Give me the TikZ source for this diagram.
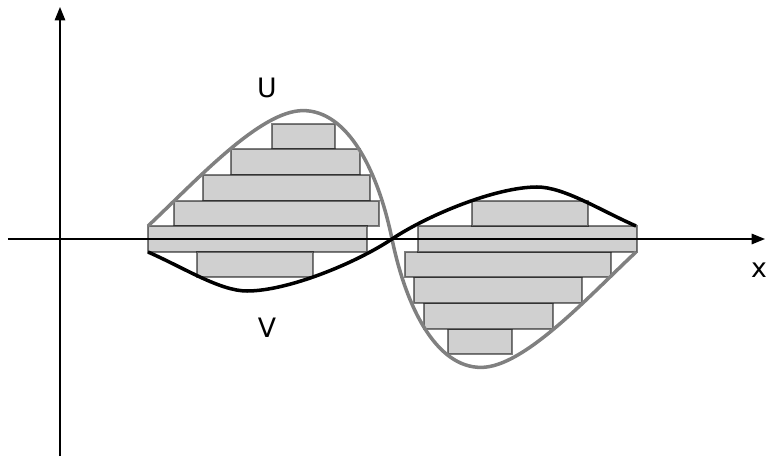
\documentclass[tikz,border=0pt]{standalone}
\usepackage{fontspec}
\setmainfont{DejaVu Sans}
\usepackage{tikz}
\usetikzlibrary{arrows.meta}
\definecolor{stripfill}{RGB}{208,208,208}
\definecolor{ucol}{RGB}{128,128,128}
\tikzset{
  axisline/.style={-{Triangle[length=9.5pt,width=7.5pt]}, line width=0.9pt, black},
  stripbox/.style={fill=stripfill, draw=black, draw opacity=0.5, line width=1.4pt},
  ucurve/.style={draw=ucol, line width=2.5pt},
  vcurve/.style={draw=black, line width=2.5pt},
  curvelbl/.style={font=\fontsize{19}{22}\selectfont, inner sep=0pt}
}

\begin{document}
\begin{tikzpicture}
  \useasboundingbox (-1.5,-5.425) rectangle (17.675,5.975);

  %% Strips between U and V
  \foreach \xa/\xb/\k in {
      5.3/6.875/4, 4.275/7.5/3, 3.575/7.75/2, 2.85/7.975/1, 2.2/7.675/0, 3.425/6.325/-1,
      9.7/11.3/-4, 9.1/12.325/-3, 8.85/13.05/-2, 8.625/13.775/-1, 8.95/14.425/0, 10.3/13.2/1}{
    \draw[stripbox] (\xa,\k*0.64-0.32) rectangle (\xb,\k*0.64+0.32);
  }

  %% Axes
  \coordinate (xstart) at (-1.3,0);
  \coordinate (xend) at (17.625,0);
  \coordinate (ystart) at (0,-5.425);
  \coordinate (yend) at (0,5.8);
  \draw[axisline] (xstart) -- (xend);
  \draw[axisline] (ystart) -- (yend);

  %% Curves
  % U
  \draw[ucurve] (2.2,0.325) .. controls (3.4,1.45) and (5.0,3.21) .. (6.075,3.21)
      .. controls (7.2,3.21) and (7.95,1.7) .. (8.3,0)
      .. controls (8.65,-1.7) and (9.4,-3.21) .. (10.525,-3.21)
      .. controls (11.6,-3.21) and (13.2,-1.45) .. (14.4,-0.325);
  % V
  \draw[vcurve] (2.2,-0.325) .. controls (3.1,-0.72) and (4.0,-1.3) .. (4.675,-1.3)
      .. controls (5.7,-1.3) and (7.4,-0.6) .. (8.3,0)
      .. controls (9.2,0.6) and (10.9,1.3) .. (11.925,1.3)
      .. controls (12.6,1.3) and (13.5,0.72) .. (14.4,0.325);

  \node[curvelbl] (ulbl) at (5.175,3.775) {U};
  \node[curvelbl] (vlbl) at (5.175,-2.21) {V};
  \node[curvelbl] (xlbl) at (17.475,-0.77) {x};
\end{tikzpicture}
\end{document}
